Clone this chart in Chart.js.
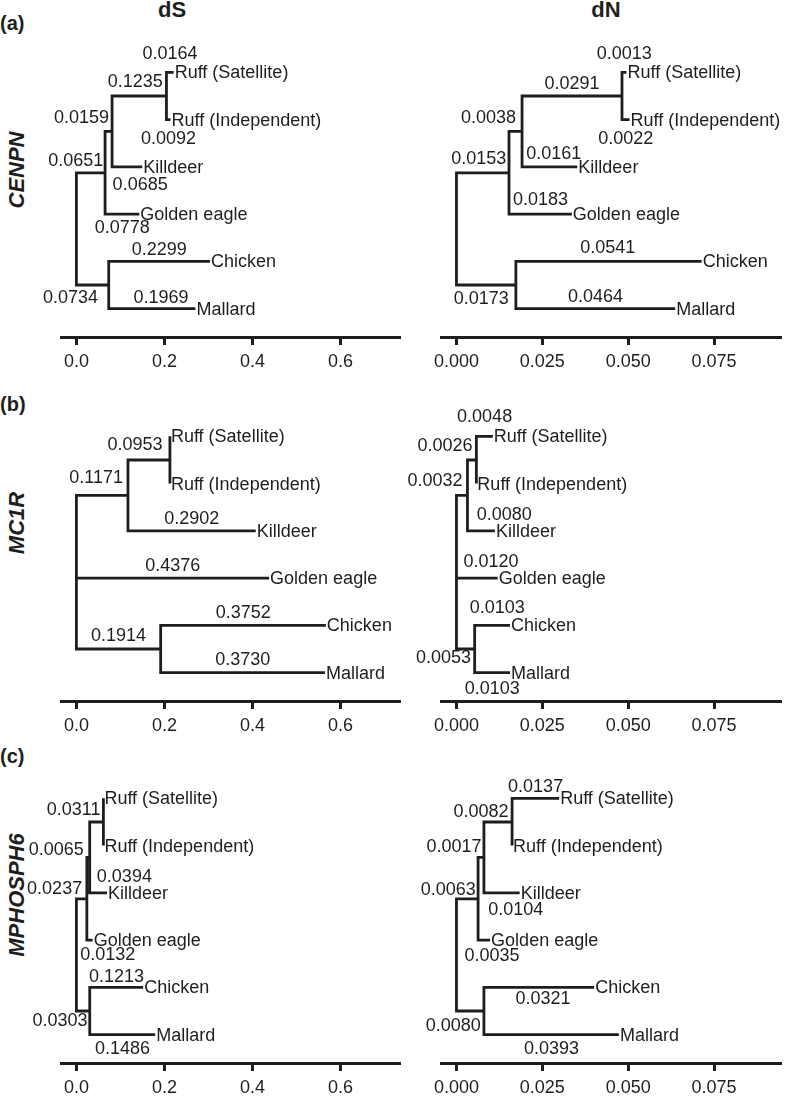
<!DOCTYPE html>
<html>
<head>
<meta charset="utf-8">
<script src="https://cdn.jsdelivr.net/npm/chart.js@4.4.1/dist/chart.umd.min.js"></script>
<style>
  html, body { margin: 0; padding: 0; background: #fff; overflow: hidden; }
  #page { position: relative; width: 798px; height: 1112px; font-family: 'Liberation Sans', Arial, sans-serif; color: #1e1e1e; }
  canvas { position: absolute; }
  .txt { position: absolute; line-height: 1; white-space: nowrap; transform: translate(-50%, -50%); }
  .head { font-weight: bold; font-size: 22px; }
  .tag { font-weight: bold; font-size: 20px; transform: translate(0, -50%); }
  .gene { font-weight: bold; font-style: italic; font-size: 22px; transform: translate(-50%, -50%) rotate(-90deg); }
</style>
</head>
<body>
<div id="page">
  <div class="txt head" style="left:172px;top:10px">dS</div>
  <div class="txt head" style="left:606px;top:10px">dN</div>
  <div class="txt tag" style="left:0px;top:23px">(a)</div>
  <div class="txt tag" style="left:0px;top:404px">(b)</div>
  <div class="txt tag" style="left:0px;top:756px">(c)</div>
  <div class="txt gene" style="left:17px;top:170px">CENPN</div>
  <div class="txt gene" style="left:17px;top:523px">MC1R</div>
  <div class="txt gene" style="left:17px;top:895px">MPHOSPH6</div>
</div>
<script>
// tips, top to bottom
const taxa = ['Ruff (Satellite)', 'Ruff (Independent)', 'Killdeer', 'Golden eagle', 'Chicken', 'Mallard'];
// every tree uses this branch order; n1..n4 are the internal nodes
const branchNames = ['n1', 'n2', 'n3', 'Ruff (Satellite)', 'Ruff (Independent)', 'Killdeer', 'Golden eagle', 'n4', 'Chicken', 'Mallard'];
const branchParent = ['root', 'n1', 'n2', 'n3', 'n3', 'n2', 'n1', 'root', 'n4', 'n4'];

// branch lengths (0 = collapsed / not labelled)
const cenpnDS = [0.0651, 0.0159, 0.1235, 0.0164, 0.0092, 0.0685, 0.0778, 0.0734, 0.2299, 0.1969];
const cenpnDN = [0.0153, 0.0038, 0.0291, 0.0013, 0.0022, 0.0161, 0.0183, 0.0173, 0.0541, 0.0464];
const mc1rDS = [0, 0.1171, 0.0953, 0, 0, 0.2902, 0.4376, 0.1914, 0.3752, 0.3730];
const mc1rDN = [0, 0.0032, 0.0026, 0.0048, 0, 0.0080, 0.0120, 0.0053, 0.0103, 0.0103];
const mphosph6DS = [0.0237, 0.0065, 0.0311, 0, 0, 0.0394, 0.0132, 0.0303, 0.1213, 0.1486];
const mphosph6DN = [0.0063, 0.0017, 0.0082, 0.0137, 0, 0.0104, 0.0035, 0.0080, 0.0321, 0.0393];

const dsTicks = [0, 0.2, 0.4, 0.6];
const dsTickLabels = ['0.0', '0.2', '0.4', '0.6'];
const dnTicks = [0, 0.025, 0.05, 0.075];
const dnTickLabels = ['0.000', '0.025', '0.050', '0.075'];

// where each branch label sits, px from the branch midpoint (placed by hand in the original)
const nudgeCenpnDS = [[-15, -12], [-27, -13], [-4, -14], [0, -18], [0, 19], [13, 18], [0, 14], [-22, 13], [0, -11], [9, -11]];
const nudgeCenpnDN = [[-4, -14], [-27, -13], [0, -12], [0, -18], [0, 19], [4, -13], [0, -14], [-5, 14], [-1, -13], [0, -12]];
const nudgeMc1rDS = [null, [-6, -17], [-14, -15], null, null, [0, -12], [0, -12], [0, -13], [0, -12], [0, -13]];
const nudgeMc1rDN = [null, [-27, -14], [-27, -14], [0, -19], null, [23, -16], [14, -16], [-22, 9], [5, -17], [0, 16]];
const nudgeMphDS = [[-27, -10], [-32, -7], [-23, -12], null, null, [26, -16], [18, 15], [-23, 10], [0, -10], [0, 14]];
const nudgeMphDN = [[-19, -9], [-27, -10], [-17, -10], [0, -11], null, [14, 17], [8, 16], [-17, 15], [4, 12], [0, 14]];

const ink = '#1e1e1e';
const family = "'Liberation Sans', Arial, sans-serif";

function layoutTree(lengths) {
  const x = { root: 0 }, y = {};
  // parents come before children in branchNames, so one pass is enough
  branchNames.forEach((name, i) => { x[name] = x[branchParent[i]] + lengths[i]; });
  taxa.forEach((t, i) => { y[t] = taxa.length - i; });
  ['n3', 'n2', 'n1', 'n4', 'root'].forEach(n => {
    const kids = branchNames.filter((b, i) => branchParent[i] === n);
    y[n] = kids.reduce((s, k) => s + y[k], 0) / kids.length;
  });
  return { x, y };
}

// elbow per branch: down/up from the parent, then across to the child
function branchPoints(tree) {
  const pts = [];
  branchNames.forEach((name, i) => {
    const p = branchParent[i];
    pts.push({ x: tree.x[p], y: tree.y[p] }, { x: tree.x[p], y: tree.y[name] }, { x: tree.x[name], y: tree.y[name] });
    pts.push({ x: tree.x[name], y: null });
  });
  return pts;
}

function textPlugin(tree, lengths, nudge) {
  return {
    id: 'treeText',
    afterDatasetsDraw(chart) {
      const { ctx } = chart;
      const xs = chart.scales.x, ys = chart.scales.y;
      ctx.save();
      ctx.fillStyle = ink;
      ctx.font = '18px ' + family;
      ctx.textBaseline = 'middle';
      ctx.textAlign = 'left';
      taxa.forEach(t => {
        ctx.fillText(t, xs.getPixelForValue(tree.x[t]) + 1, ys.getPixelForValue(tree.y[t]) + 1);
      });
      ctx.textAlign = 'center';
      branchNames.forEach((name, i) => {
        if (!lengths[i] || !nudge[i]) return;
        const mid = (xs.getPixelForValue(tree.x[branchParent[i]]) + xs.getPixelForValue(tree.x[name])) / 2;
        ctx.fillText(lengths[i].toFixed(4), mid + nudge[i][0], ys.getPixelForValue(tree.y[name]) + nudge[i][1]);
      });
      ctx.restore();
    }
  };
}

const panels = [
  { lengths: cenpnDS, nudge: nudgeCenpnDS, kind: 'dS', top: 14 },
  { lengths: cenpnDN, nudge: nudgeCenpnDN, kind: 'dN', top: 14 },
  { lengths: mc1rDS, nudge: nudgeMc1rDS, kind: 'dS', top: 378 },
  { lengths: mc1rDN, nudge: nudgeMc1rDN, kind: 'dN', top: 378 },
  { lengths: mphosph6DS, nudge: nudgeMphDS, kind: 'dS', top: 740 },
  { lengths: mphosph6DN, nudge: nudgeMphDN, kind: 'dN', top: 740 },
];

const page = document.getElementById('page');
panels.forEach(pn => {
  const isDS = pn.kind === 'dS';
  const ticks = isDS ? dsTicks : dnTicks;
  const tickLabels = isDS ? dsTickLabels : dnTickLabels;
  const canvas = document.createElement('canvas');
  canvas.width = isDS ? 396 : 397;
  canvas.height = 368;
  canvas.style.left = (isDS ? 16 : 396) + 'px';
  canvas.style.top = pn.top + 'px';
  page.appendChild(canvas);
  const tree = layoutTree(pn.lengths);

  new Chart(canvas, {
    type: 'scatter',
    data: {
      datasets: [{
        data: branchPoints(tree),
        showLine: true,
        spanGaps: false,
        borderColor: ink,
        borderWidth: 2.8,
        borderJoinStyle: 'miter',
        borderCapStyle: 'butt',
        pointRadius: 0,
        tension: 0
      }]
    },
    options: {
      responsive: false,
      animation: false,
      events: [],
      layout: { padding: { left: 45, right: 12, top: 30, bottom: 0 } },
      plugins: { legend: { display: false }, tooltip: { enabled: false } },
      scales: {
        x: {
          type: 'linear',
          position: 'bottom',
          min: isDS ? -0.035 : -0.0045,
          max: isDS ? 0.735 : 0.0945,
          afterBuildTicks: s => { s.ticks = ticks.map(v => ({ value: v })); },
          afterFit: s => { s.height = 45; },
          ticks: {
            callback: (v, i) => tickLabels[i],
            font: { size: 18, family: family },
            color: ink,
            padding: 6,
            maxRotation: 0,
            autoSkip: false
          },
          grid: { drawOnChartArea: false, drawTicks: true, tickLength: 8, tickWidth: 3, tickColor: ink },
          border: { display: true, width: 3, color: ink }
        },
        y: { type: 'linear', display: false, min: 0.4, max: 6.6 }
      }
    },
    plugins: [textPlugin(tree, pn.lengths, pn.nudge)]
  });
});
</script>
</body>
</html>
